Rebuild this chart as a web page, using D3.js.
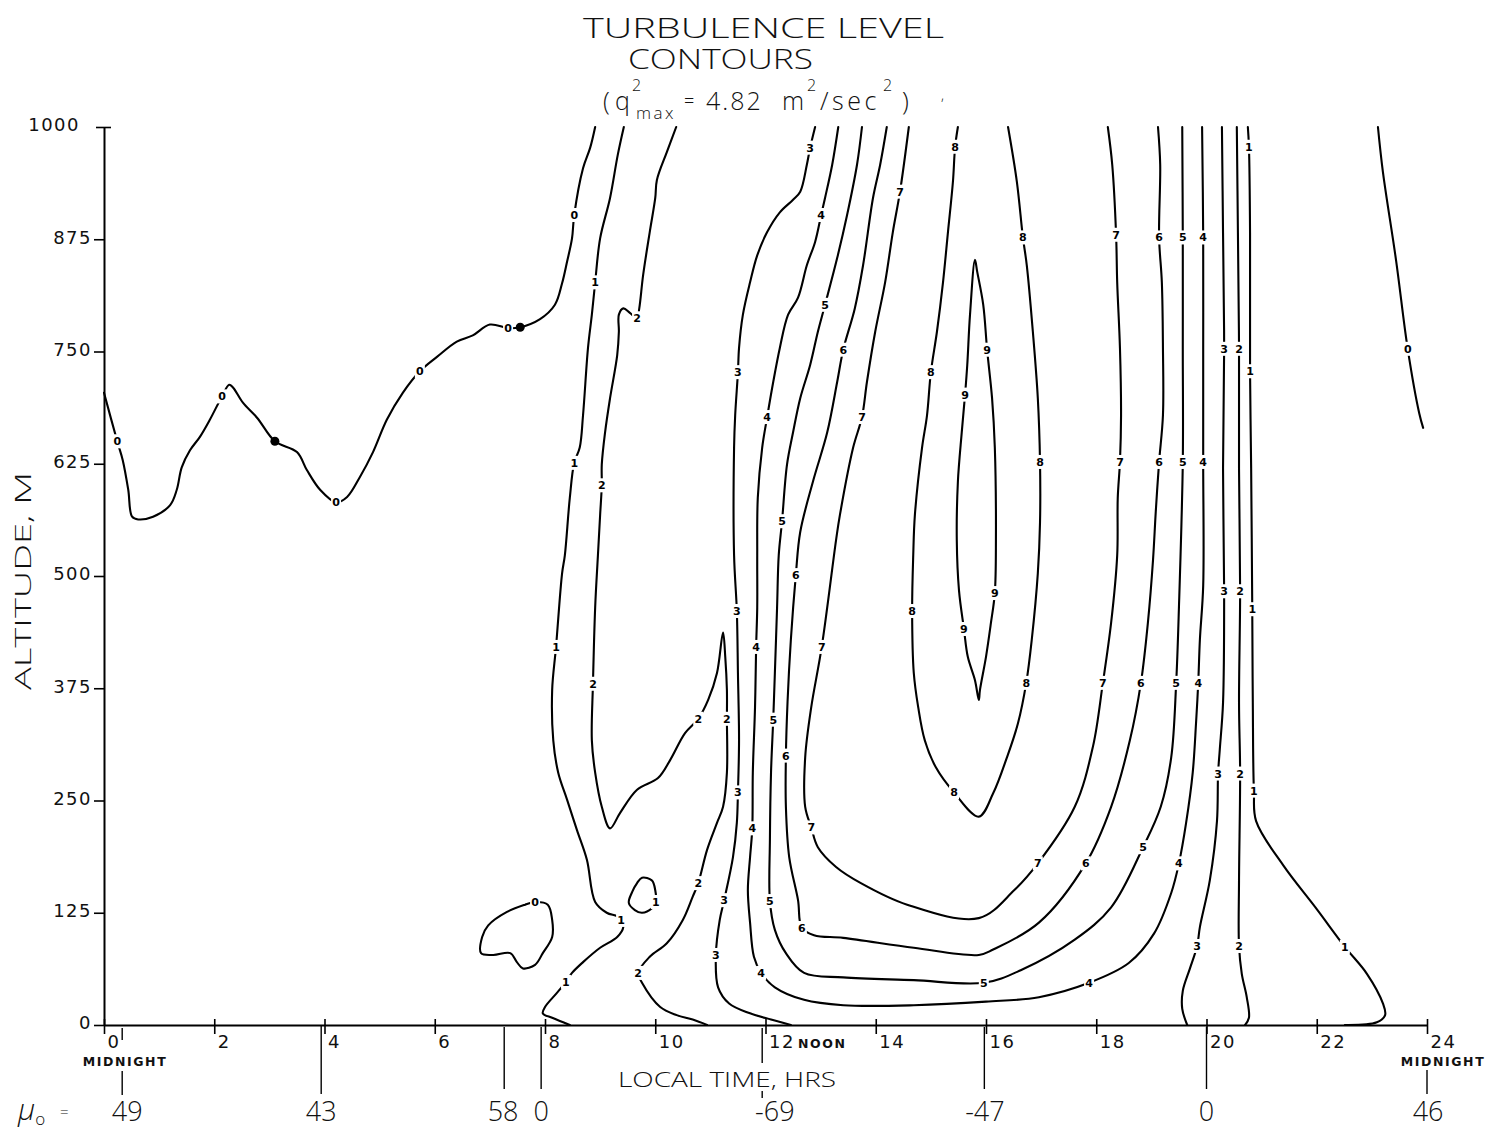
<!DOCTYPE html>
<html>
<head>
<meta charset="utf-8">
<script src="https://cdn.jsdelivr.net/npm/d3@7"></script>
<style>
  html, body { margin: 0; padding: 0; background: #fff; }
  svg { display: block; }
  .lettering { font-family: "Open Sans", "Liberation Sans", sans-serif; font-weight: 300; fill: #111; }
  .ticklab { font-family: "DejaVu Sans", sans-serif; font-size: 18px; fill: #111; letter-spacing: 1.5px; }
  .smallcaps { font-family: "DejaVu Sans", sans-serif; font-weight: bold; font-size: 12.5px; fill: #111; letter-spacing: 1.6px; }
  .clabel { font-family: "DejaVu Sans", sans-serif; font-weight: bold; font-size: 11px; fill: #000; }
</style>
</head>
<body>
<svg id="chart" width="1491" height="1132"></svg>
<script>
// ---- Turbulence level contours: points are [local time (h), altitude (m)] ----
const level0West = [[0,704],[0.24,650],[0.34,629],[0.44,596],[0.51,566],[0.62,563],[0.89,566],[1.20,579],[1.32,596],[1.41,621],[1.56,640],[1.74,655],[1.92,674],[2.14,700],[2.27,713],[2.34,710],[2.52,693],[2.78,676],[3.10,650],[3.50,638],[3.68,618],[3.92,596],[4.21,582],[4.41,588],[4.64,610],[4.88,638],[5.13,674],[5.42,704],[5.73,728],[6.04,744],[6.40,761],[6.69,768],[7.00,780],[7.33,776],[7.55,777],[7.91,786],[8.18,802],[8.31,826],[8.40,850],[8.49,876],[8.53,902],[8.69,954],[8.82,977],[8.91,1000]];
const level0East = [[23.11,1000],[23.20,950],[23.44,851],[23.65,753],[23.86,681],[23.93,665]];
const level0Pocket = [[7.82,137],[7.64,134],[7.31,126],[6.97,111],[6.86,98],[6.84,80],[7.06,78],[7.37,80],[7.49,70],[7.60,63],[7.82,67],[7.96,80],[8.13,98],[8.13,117],[8.05,134]];

const level1West = [[9.43,1000],[9.32,969],[9.18,921],[9.00,876],[8.91,827],[8.85,791],[8.78,754],[8.69,679],[8.63,643],[8.53,626],[8.45,587],[8.36,523],[8.31,503],[8.20,421],[8.13,373],[8.15,317],[8.24,281],[8.40,251],[8.58,217],[8.76,184],[8.91,137],[9.12,125],[9.31,121],[9.38,117],[9.42,109],[9.31,98],[9.00,86],[8.69,70],[8.49,58],[8.38,48],[8.22,36],[8.00,20],[7.96,13],[8.13,8],[8.33,3],[8.45,0]];
const level1Pocket = [[9.76,164],[9.94,161],[10.00,150],[10.01,137],[9.94,130],[9.76,125],[9.63,128],[9.52,136],[9.58,148],[9.67,158]];
const level1East = [[20.75,1000],[20.77,978],[20.79,882],[20.79,728],[20.81,620],[20.83,463],[20.84,359],[20.86,261],[20.90,227],[21.39,178],[22.00,129],[22.51,87],[22.91,57],[23.20,24],[23.24,11],[23.09,3],[22.51,0]];

const level2West = [[10.38,1000],[10.21,972],[10.03,941],[10.00,921],[9.90,883],[9.78,835],[9.71,798],[9.67,787],[9.54,793],[9.42,798],[9.34,791],[9.34,772],[9.31,746],[9.18,698],[9.09,660],[9.03,624],[9.03,601],[9.00,568],[8.96,523],[8.91,465],[8.87,380],[8.85,317],[8.91,281],[9.03,243],[9.18,219],[9.36,236],[9.67,262],[10.05,275],[10.27,295],[10.54,325],[10.78,341],[10.96,362],[11.12,392],[11.23,437],[11.27,410],[11.30,373],[11.30,341],[11.30,281],[11.23,243],[11.12,225],[10.94,195],[10.78,158],[10.68,143],[10.50,117],[10.21,91],[9.90,76],[9.69,58],[9.76,47],[10.09,20],[10.39,11],[10.68,6],[10.94,0]];
const level2East = [[20.55,1000],[20.57,882],[20.59,753],[20.59,620],[20.61,483],[20.59,359],[20.61,280],[20.59,161],[20.59,88],[20.64,57],[20.73,31],[20.77,8],[20.70,0]];

const level3West = [[12.90,1000],[12.81,977],[12.75,958],[12.63,928],[12.50,919],[12.26,905],[12.03,883],[11.85,857],[11.72,827],[11.59,791],[11.52,754],[11.50,727],[11.45,679],[11.43,643],[11.43,523],[11.48,461],[11.50,392],[11.52,317],[11.50,259],[11.48,225],[11.41,187],[11.25,139],[11.17,117],[11.10,78],[11.14,42],[11.34,24],[11.72,13],[12.10,6],[12.46,0]];
const level3East = [[20.28,1000],[20.30,882],[20.32,753],[20.30,620],[20.32,483],[20.30,359],[20.24,306],[20.21,280],[20.19,227],[20.06,161],[19.88,109],[19.83,88],[19.70,63],[19.57,38],[19.56,18],[19.65,0]];

const level4 = [[13.32,1000],[13.21,958],[13.08,921],[13.01,902],[12.90,872],[12.75,846],[12.59,810],[12.41,791],[12.26,754],[12.14,716],[12.03,677],[11.94,643],[11.86,587],[11.85,523],[11.85,465],[11.83,421],[11.81,354],[11.77,281],[11.76,219],[11.72,187],[11.68,150],[11.72,114],[11.79,76],[11.92,58],[12.17,42],[12.70,28],[13.41,22],[14.69,22],[16.00,26],[16.96,31],[17.87,47],[18.59,69],[19.05,102],[19.36,147],[19.50,180],[19.63,225],[19.75,281],[19.81,336],[19.85,381],[19.88,429],[19.94,489],[19.94,627],[19.94,752],[19.94,877],[19.92,1000]];

const level5 = [[13.75,1000],[13.66,958],[13.48,902],[13.30,854],[13.08,802],[12.95,772],[12.81,735],[12.63,698],[12.50,660],[12.39,624],[12.30,561],[12.24,523],[12.21,465],[12.17,392],[12.14,340],[12.10,281],[12.08,206],[12.08,138],[12.17,106],[12.37,80],[12.70,58],[13.41,53],[14.69,50],[15.96,47],[16.63,61],[17.61,95],[18.27,131],[18.85,198],[19.17,243],[19.36,298],[19.45,381],[19.50,465],[19.57,627],[19.57,752],[19.57,877],[19.56,1000]];

const level6 = [[14.20,1000],[14.08,958],[13.95,921],[13.77,846],[13.62,798],[13.41,752],[13.30,716],[13.12,660],[12.86,605],[12.63,549],[12.55,501],[12.46,429],[12.40,360],[12.37,300],[12.37,243],[12.43,187],[12.59,139],[12.66,108],[12.88,100],[13.41,97],[14.69,86],[15.87,78],[16.13,84],[16.96,114],[17.81,180],[18.27,243],[18.61,317],[18.81,381],[18.94,450],[19.03,518],[19.08,572],[19.14,627],[19.21,679],[19.21,754],[19.19,827],[19.14,877],[19.16,958],[19.12,1000]];

const level7 = [[14.60,1000],[14.44,928],[14.31,883],[14.17,827],[13.99,772],[13.84,716],[13.75,677],[13.59,643],[13.35,568],[13.28,540],[13.02,421],[12.83,354],[12.72,298],[12.72,243],[12.83,220],[12.95,198],[13.28,176],[13.73,158],[14.57,134],[15.87,119],[16.51,150],[16.94,180],[17.61,243],[17.94,310],[18.12,381],[18.27,448],[18.38,523],[18.39,587],[18.43,627],[18.45,679],[18.43,754],[18.38,827],[18.36,880],[18.29,958],[18.21,1000]];

const level8 = [[15.49,1000],[15.44,978],[15.40,939],[15.31,883],[15.22,827],[15.11,772],[15.00,727],[14.93,679],[14.84,643],[14.71,568],[14.68,523],[14.66,461],[14.69,392],[14.77,354],[14.89,317],[15.09,287],[15.42,259],[15.87,232],[16.13,258],[16.38,298],[16.58,336],[16.73,381],[16.83,429],[16.94,503],[16.98,560],[16.98,627],[16.94,698],[16.85,772],[16.74,846],[16.67,877],[16.56,939],[16.40,1000]];

const level9 = [[15.80,852],[15.84,839],[15.95,802],[16.02,752],[16.11,698],[16.16,643],[16.18,540],[16.16,481],[16.09,448],[16.00,410],[15.89,373],[15.87,362],[15.80,384],[15.67,410],[15.60,441],[15.51,484],[15.47,540],[15.49,605],[15.56,660],[15.62,702],[15.66,735],[15.71,791]];

// contour labels: [level, hour, altitude]
const contourLabels = [
  [0,0.24,650],[0,2.14,700],[0,4.21,582],[0,5.73,728],[0,7.33,776],[0,8.53,902],[0,7.82,137],[0,23.65,753],
  [1,8.91,827],[1,8.53,626],[1,8.20,421],[1,9.38,117],[1,8.38,48],[1,10.01,137],[1,20.77,978],[1,20.79,728],[1,20.83,463],[1,20.86,261],[1,22.51,87],
  [2,9.67,787],[2,9.03,601],[2,8.87,380],[2,10.78,341],[2,11.30,341],[2,10.78,158],[2,9.69,58],[2,20.59,753],[2,20.61,483],[2,20.61,280],[2,20.59,88],
  [3,12.81,977],[3,11.50,727],[3,11.48,461],[3,11.50,259],[3,11.25,139],[3,11.10,78],[3,20.32,753],[3,20.32,483],[3,20.21,280],[3,19.83,88],
  [4,13.01,902],[4,12.03,677],[4,11.83,421],[4,11.76,219],[4,11.92,58],[4,17.87,47],[4,19.50,180],[4,19.85,381],[4,19.94,627],[4,19.94,877],
  [5,13.08,802],[5,12.30,561],[5,12.14,340],[5,12.08,138],[5,15.96,47],[5,18.85,198],[5,19.45,381],[5,19.57,627],[5,19.57,877],
  [6,13.41,752],[6,12.55,501],[6,12.37,300],[6,12.66,108],[6,17.81,180],[6,18.81,381],[6,19.14,627],[6,19.14,877],
  [7,14.44,928],[7,13.75,677],[7,13.02,421],[7,12.83,220],[7,16.94,180],[7,18.12,381],[7,18.43,627],[7,18.36,880],
  [8,15.44,978],[8,15.00,727],[8,14.66,461],[8,15.42,259],[8,16.73,381],[8,16.98,627],[8,16.67,877],
  [9,16.02,752],[9,16.16,481],[9,15.60,441],[9,15.62,702]
];
// heavy plotter blots on the zero contour
const zeroBlots = [[3.10,650],[7.55,777]];

// axes
const hourTicks = [0,2,4,6,8,10,12,14,16,18,20,22,24];
const hourTickLabels = ["0","2","4","6","8","10","12","14","16","18","20","22","24"];
const altitudeTicks = [0,125,250,375,500,625,750,875,1000];
const altitudeTickLabels = ["0","125","250","375","500","625","750","875","1000"];

// solar elevation marks under the time axis
const muHours = [0.33,3.94,7.26,7.93,11.94,15.97,20.0,24.0];
const muValues = ["49","43","58","0","-69","-47","0","46"];
const muLabelHours = [0.42,3.94,7.24,7.93,12.17,15.98,20.0,24.02];

// ---- drawing ----
const svg = d3.select("#chart");
const x = d3.scaleLinear().domain([0, 24]).range([104, 1427]);
const y = d3.scaleLinear().domain([0, 1000]).range([1025, 127]);

const openCurve = d3.line().x(d => x(d[0])).y(d => y(d[1])).curve(d3.curveCatmullRom.alpha(0.5));
const closedCurve = d3.line().x(d => x(d[0])).y(d => y(d[1])).curve(d3.curveCatmullRomClosed.alpha(0.5));

const openContours = [level0West, level0East, level1West, level1East, level2West, level2East,
                      level3West, level3East, level4, level5, level6, level7, level8];
const closedContours = [level0Pocket, level1Pocket, level9];

const g = svg.append("g").attr("fill", "none").attr("stroke", "#000")
  .attr("stroke-width", 2.1).attr("stroke-linejoin", "round").attr("stroke-linecap", "round");
g.selectAll("path.open").data(openContours).join("path").attr("class", "open").attr("d", openCurve);
g.selectAll("path.closed").data(closedContours).join("path").attr("class", "closed").attr("d", closedCurve);

// contour value labels sit in a small gap of the line
const lab = svg.append("g");
lab.selectAll("rect").data(contourLabels).join("rect")
  .attr("x", d => x(d[1]) - 5).attr("y", d => y(d[2]) - 7)
  .attr("width", 10).attr("height", 14).attr("fill", "#fff");
lab.selectAll("text").data(contourLabels).join("text")
  .attr("class", "clabel")
  .attr("x", d => x(d[1])).attr("y", d => y(d[2]))
  .attr("text-anchor", "middle").attr("dy", "0.36em")
  .text(d => d[0]);
lab.selectAll("circle").data(zeroBlots).join("circle")
  .attr("cx", d => x(d[0])).attr("cy", d => y(d[1])).attr("r", 4.5).attr("fill", "#000");

// altitude axis
const yAxis = d3.axisLeft(y).tickValues(altitudeTicks).tickSize(10).tickSizeOuter(0).tickPadding(2)
  .tickFormat((d, i) => altitudeTickLabels[i]);
const yg = svg.append("g").attr("transform", "translate(104,0)").call(yAxis);
yg.attr("font-size", null).attr("font-family", null);
yg.select(".domain").attr("stroke", "#000").attr("stroke-width", 2);
yg.selectAll(".tick line").attr("stroke", "#000").attr("stroke-width", 1.6);
yg.selectAll(".tick text").attr("class", "ticklab")
  .attr("dy", "0.22em").attr("x", d => d === 1000 ? -24 : -12);
yg.selectAll(".tick").filter(d => d === 1000).select("line").attr("x2", -8).attr("x1", 7);

// time axis
const xAxis = d3.axisBottom(x).tickValues(hourTicks).tickSize(8).tickSizeOuter(0)
  .tickFormat((d, i) => hourTickLabels[i]);
const xg = svg.append("g").attr("transform", "translate(0,1025)").call(xAxis);
xg.attr("font-size", null).attr("font-family", null);
xg.select(".domain").attr("stroke", "#000").attr("stroke-width", 2.2);
xg.selectAll(".tick line").attr("stroke", "#000").attr("stroke-width", 1.6).attr("y1", -6).attr("y2", 9);
xg.selectAll(".tick text").attr("class", "ticklab")
  .attr("text-anchor", "start").attr("x", 3).attr("y", 23).attr("dy", null);
xg.selectAll(".tick").filter(d => d === 12).select("text")
  .append("tspan").attr("class", "smallcaps").attr("dx", 3).text("NOON");

svg.append("text").attr("class", "smallcaps").attr("x", x(0) + 21).attr("y", 1066)
  .attr("text-anchor", "middle").text("MIDNIGHT");
svg.append("text").attr("class", "smallcaps").attr("x", x(24) + 16).attr("y", 1066)
  .attr("text-anchor", "middle").text("MIDNIGHT");

// solar marks: vertical strokes and values
const muG = svg.append("g").attr("stroke", "#000").attr("stroke-width", 1.4);
muHours.forEach((h, i) => {
  let spans;
  if (i === 0) spans = [[1028, 1040], [1071, 1095]];
  else if (i === 7) spans = [[1070, 1094]];
  else if (i === 4) spans = [[1028, 1063], [1091, 1098]];
  else if (i === 1) spans = [[1025, 1094]];
  else spans = [[1027, 1089]];
  spans.forEach(s => muG.append("line").attr("x1", x(h)).attr("x2", x(h)).attr("y1", s[0]).attr("y2", s[1]));
});
svg.append("g").selectAll("text").data(muValues).join("text")
  .attr("class", "lettering").attr("font-size", 27)
  .attr("x", (d, i) => x(muLabelHours[i])).attr("y", 1121)
  .attr("text-anchor", "middle").text(d => d);

const mu = svg.append("text").attr("class", "lettering").attr("x", 18).attr("y", 1120);
mu.append("tspan").attr("font-size", 30).attr("font-style", "italic").text("μ");
mu.append("tspan").attr("font-size", 17).attr("dy", 5).text("o");
mu.append("tspan").attr("font-size", 15).attr("x", 60).attr("dy", -8).text("=");

// axis titles
svg.append("text").attr("class", "lettering").attr("font-size", 22)
  .attr("transform", "translate(31,581) rotate(-90)").attr("text-anchor", "middle")
  .attr("textLength", 218).attr("lengthAdjust", "spacingAndGlyphs").text("ALTITUDE, M");
svg.append("text").attr("class", "lettering").attr("font-size", 21)
  .attr("x", 618).attr("y", 1087).attr("textLength", 218).attr("lengthAdjust", "spacingAndGlyphs")
  .text("LOCAL TIME, HRS");

// chart title
svg.append("text").attr("class", "lettering").attr("font-size", 28)
  .attr("x", 583).attr("y", 38).attr("textLength", 361).attr("lengthAdjust", "spacingAndGlyphs")
  .text("TURBULENCE LEVEL");
svg.append("text").attr("class", "lettering").attr("font-size", 28)
  .attr("x", 628).attr("y", 69).attr("textLength", 185).attr("lengthAdjust", "spacingAndGlyphs")
  .text("CONTOURS");

// (q²max = 4.82 m²/sec²) line, pieces placed one after another
const subPieces = [
  {t: "(", x: 603, y: 110, s: 25},
  {t: "q", x: 615, y: 110, s: 25},
  {t: "2", x: 632, y: 91, s: 16},
  {t: "max", x: 636, y: 119, s: 17, ls: 2.5},
  {t: "=", x: 684, y: 107, s: 18},
  {t: "4.82", x: 706, y: 110, s: 25, ls: 2},
  {t: "m", x: 782, y: 110, s: 25},
  {t: "2", x: 807, y: 91, s: 16},
  {t: "/sec", x: 820, y: 110, s: 25, ls: 3.5},
  {t: "2", x: 883, y: 91, s: 16},
  {t: ")", x: 902, y: 110, s: 25},
  {t: ",", x: 941, y: 100, s: 14}
];
svg.append("g").selectAll("text").data(subPieces).join("text")
  .attr("class", "lettering")
  .attr("x", d => d.x).attr("y", d => d.y).attr("font-size", d => d.s)
  .attr("letter-spacing", d => d.ls || 0)
  .text(d => d.t);
</script>
</body>
</html>
